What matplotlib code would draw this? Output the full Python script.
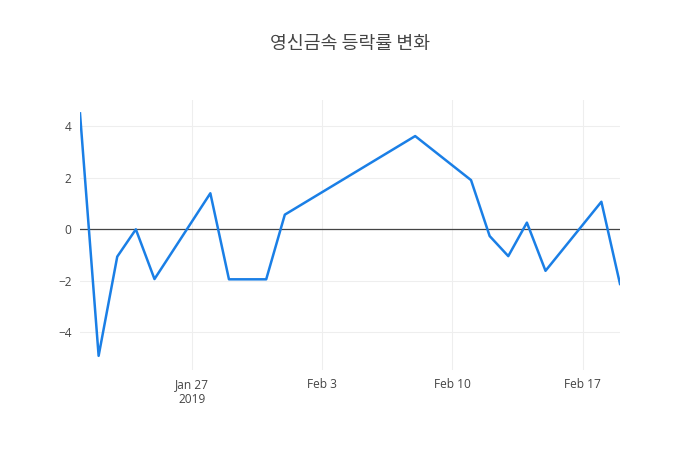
import matplotlib
matplotlib.use('Agg')
import matplotlib.pyplot as plt
import numpy as np

plt.rcParams['font.family'] = ['Open Sans', 'Noto Sans CJK KR', 'DejaVu Sans']

title = '영신금속 등락률 변화'
dates = ['2019-01-21', '2019-01-22', '2019-01-23', '2019-01-24', '2019-01-25',
         '2019-01-28', '2019-01-29', '2019-01-30', '2019-01-31', '2019-02-01',
         '2019-02-08', '2019-02-11', '2019-02-12', '2019-02-13', '2019-02-14',
         '2019-02-15', '2019-02-18', '2019-02-19']
changes = [4.50, -4.91, -1.06, 0.00, -1.93,
           1.40, -1.94, -1.94, -1.94, 0.57,
           3.62, 1.91, -0.26, -1.04, 0.26,
           -1.61, 1.07, -2.12]

x = np.array(dates, dtype='datetime64[D]')
tick_dates = np.array(['2019-01-27', '2019-02-03', '2019-02-10', '2019-02-17'], dtype='datetime64[D]')
tick_labels = ['Jan 27\n2019', 'Feb 3', 'Feb 10', 'Feb 17']

fig = plt.figure(figsize=(7, 4.5), dpi=100)
ax = fig.add_axes([80 / 700, 80 / 450, 540 / 700, 270 / 450])

ax.plot(x, changes, color='#1a7fe6', linewidth=1.8, zorder=3)
ax.axhline(0, color='#444444', linewidth=0.9, zorder=2)

ax.set_xlim(x[0], x[-1])
ax.set_ylim(-5.46, 5.02)
ax.set_xticks(tick_dates)
ax.set_xticklabels(tick_labels)
ax.set_yticks([-4, -2, 0, 2, 4])
ax.set_yticklabels(['−4', '−2', '0', '2', '4'])

ax.grid(True, color='#eeeeee', linewidth=0.8, zorder=0)
ax.set_axisbelow(True)
for s in ax.spines.values():
    s.set_visible(False)
ax.tick_params(length=0, colors='#444444', labelsize=8.6, pad=6)

fig.text(350 / 700, 1 - 44 / 450, title, ha='center', va='center',
         fontsize=13.2, color='#444444', family=['Noto Sans CJK KR', 'DejaVu Sans'])

fig.savefig('out.png', dpi=100)
